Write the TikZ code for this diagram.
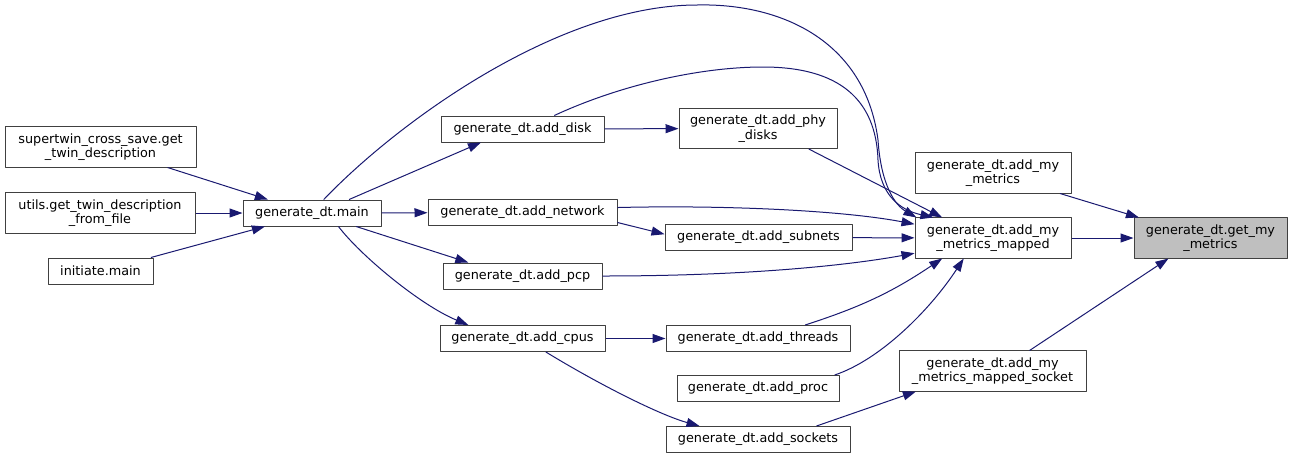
\documentclass[tikz,border=0pt]{standalone}
\usepackage{fontspec}
\setmainfont{DejaVu Sans}
\usetikzlibrary{arrows.meta}
\definecolor{edgeblue}{HTML}{191970}
\definecolor{selgray}{HTML}{BFBFBF}
\tikzset{
  fn/.style={draw=black!75,line width=1pt,fill=white,align=center,inner xsep=2pt,
    inner ysep=6.5pt,minimum height=26pt,font=\fontsize{12.8}{14.3}\selectfont},
  call/.style={->,draw=edgeblue,line width=1pt}
}
\begin{document}
\begin{tikzpicture}[x=1pt,y=-1pt,>={Triangle[length=13pt,width=9pt]},line join=round]
  \useasboundingbox (0,0) rectangle (1293,459);
  % callers of main
  \node[fn,minimum width=191pt] (stc) at (100.5,147) {supertwin\_cross\_save.get\\\_twin\_description};
  \node[fn,minimum width=190pt] (utl) at (100,213) {utils.get\_twin\_description\\\_from\_file};
  \node[fn,minimum width=105pt] (ini) at (100.5,271) {initiate.main};
  \node[fn,minimum width=138pt] (main) at (312,213) {generate\_dt.main};
  % second column
  \node[fn,minimum width=163pt] (disk) at (522.5,129) {generate\_dt.add\_disk};
  \node[fn,minimum width=189pt] (net) at (522.5,212.5) {generate\_dt.add\_network};
  \node[fn,minimum width=159pt] (pcp) at (522.5,276) {generate\_dt.add\_pcp};
  \node[fn,minimum width=165pt] (cpus) at (522.5,338.5) {generate\_dt.add\_cpus};
  % third column
  \node[fn,minimum width=158pt] (phy) at (758,128.5) {generate\_dt.add\_phy\\\_disks};
  \node[fn,minimum width=187pt] (sub) at (758.5,237.5) {generate\_dt.add\_subnets};
  \node[fn,minimum width=184pt] (thr) at (758,338.5) {generate\_dt.add\_threads};
  \node[fn,minimum width=162pt] (proc) at (758,388.5) {generate\_dt.add\_proc};
  \node[fn,minimum width=184pt] (sock) at (758,439.5) {generate\_dt.add\_sockets};
  % fourth column
  \node[fn,minimum width=156pt] (mym) at (993,173) {generate\_dt.add\_my\\\_metrics};
  \node[fn,minimum width=156pt] (mapd) at (993,238) {generate\_dt.add\_my\\\_metrics\_mapped};
  \node[fn,minimum width=187pt] (msock) at (992.5,371) {generate\_dt.add\_my\\\_metrics\_mapped\_socket};
  \node[fn,minimum width=153pt,fill=selgray] (get) at (1210.5,238) {generate\_dt.get\_my\\\_metrics};

  \draw[call] (stc.343) -- (main.163);
  \draw[call] (utl) -- (main);
  \draw[call] (ini.15.5) -- (main.196);
  \draw[call] (main.20.4) -- (disk.198);
  \draw[call] (main) -- (net);
  \draw[call] (main.343.5) -- (pcp.166);
  \draw[call] (main.333.4) .. controls (360,255) and (420,305) .. (cpus.166.5);
  \draw[call] (main.49.8) .. controls (400,120) and (560,5) .. (697,5)
    .. controls (780,3) and (865,40) .. (878,140)
    .. controls (881,185) and (895,205) .. (mapd.165);
  \draw[call] (disk) -- (phy);
  \draw[call] (disk.23.4) .. controls (620,85) and (700,67) .. (763,67)
    .. controls (840,67) and (876,100) .. (878,160)
    .. controls (880,195) and (900,210) .. (mapd.161);
  \draw[call] (phy.338.8) -- (mapd.158);
  \draw[call] (net.3) .. controls (720,205) and (840,210) .. (mapd.170.5);
  \draw[call] (net.354.6) -- (sub.178);
  \draw[call] (sub) -- (mapd);
  \draw[call] (pcp.east) .. controls (750,276) and (850,265) .. (mapd.191);
  \draw[call] (cpus) -- (thr);
  \draw[call] (cpus.330.5) .. controls (600,385) and (660,415) .. (sock.167);
  \draw[call] (thr.16) to[bend right=8] (mapd.202.6);
  \draw[call] (proc.10) .. controls (880,360) and (930,310) .. (mapd.215.5);
  \draw[call] (sock.13.5) -- (msock.195);
  \draw[call] (mym.343.4) -- (get.164);
  \draw[call] (mapd) -- (get);
  \draw[call] (msock.29.7) -- (get.206.5);
\end{tikzpicture}
\end{document}
